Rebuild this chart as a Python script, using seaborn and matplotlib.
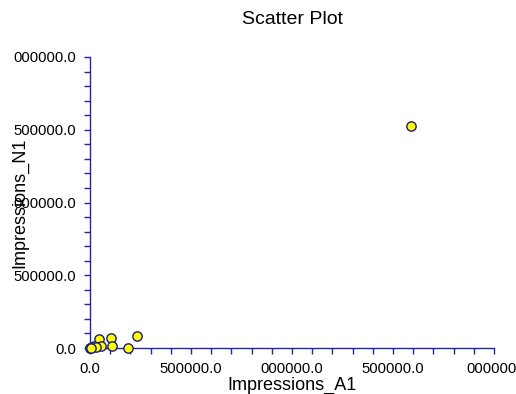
import matplotlib
matplotlib.use("Agg")
import matplotlib.pyplot as plt
import seaborn as sns
import pandas as pd
from matplotlib.ticker import FixedLocator, MultipleLocator

# Data
impressions_a1 = [1589000, 234000, 102000, 46000, 110000, 54000, 190000,
                  2000, 10000, 20000, 30000, 500, 5000]
impressions_n1 = [1526000, 80000, 71000, 60000, 12000, 16000, 2000,
                  3000, 7000, 14000, 5000, 500, 1000]
x_ticks = [0, 500000, 1000000, 1500000, 2000000]
x_tick_labels = ["0.0", "500000.0", "000000.0", "500000.0", "000000."]
y_ticks = [0, 500000, 1000000, 1500000, 2000000]
y_tick_labels = ["0.0", "500000.0", "000000.0", "500000.0", "000000.0"]

sns.set_style("white")
plt.rcParams["font.family"] = ["Liberation Sans", "DejaVu Sans"]
plt.rcParams["text.color"] = "black"
plt.rcParams["axes.labelcolor"] = "black"

df = pd.DataFrame({"Impressions_A1": impressions_a1, "Impressions_N1": impressions_n1})

fig = plt.figure(figsize=(5.16, 3.94), dpi=100)
W, H = 516, 394
ax = fig.add_axes([90 / W, (H - 348) / H, (494 - 90) / W, (348 - 57) / H])

axis_color = "#2424a4"
sns.scatterplot(data=df, x="Impressions_A1", y="Impressions_N1", ax=ax,
                color="#ffff00", edgecolor="#1a1a80", linewidth=1.0, s=45,
                clip_on=False, zorder=5, legend=False)

ax.set_xlim(0, 2000000)
ax.set_ylim(0, 2000000)
ax.xaxis.set_major_locator(FixedLocator(x_ticks))
ax.yaxis.set_major_locator(FixedLocator(y_ticks))
ax.set_xticklabels(x_tick_labels)
ax.set_yticklabels(y_tick_labels)
ax.xaxis.set_minor_locator(MultipleLocator(100000))
ax.yaxis.set_minor_locator(MultipleLocator(100000))

for side in ["top", "right"]:
    ax.spines[side].set_visible(False)
for side in ["left", "bottom"]:
    ax.spines[side].set_color(axis_color)
    ax.spines[side].set_linewidth(1.0)

ax.tick_params(axis="both", which="both", direction="out", length=4,
               width=1.0, color=axis_color, labelsize=10.7, labelcolor="black")
ax.tick_params(axis="x", which="major", pad=6)
ax.tick_params(axis="y", which="major", pad=6)
ax.tick_params(bottom=True, left=True, which="both")

ax.set_xlabel("Impressions_A1", fontsize=13, color="black")
ax.set_ylabel("Impressions_N1", fontsize=13, color="black")
ax.xaxis.set_label_coords(0.5, -0.10)
ax.yaxis.set_label_coords(-0.152, 0.5)
ax.set_title("Scatter Plot", fontsize=14, pad=24, color="black")

fig.savefig("out.png", dpi=100)
